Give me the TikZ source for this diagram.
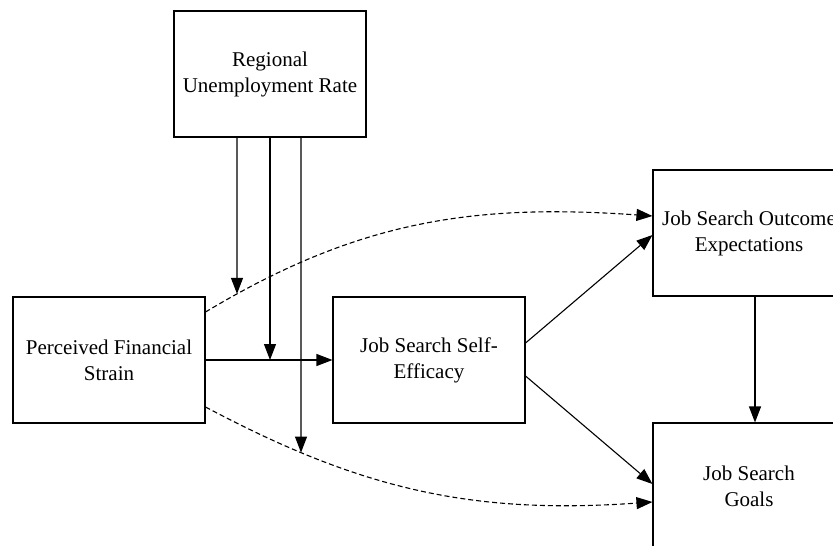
\documentclass[tikz,border=0pt]{standalone}
\usepackage{fontspec}
\setmainfont{Liberation Serif}
\usetikzlibrary{arrows.meta,intersections}

\begin{document}
\begin{tikzpicture}
            [%%%%%%%%%%%%%%%%%%%%%%%%%%%%%%%%%%%%%%%%%%%%%%%%%%%%%%%%%%
                x=1pt,y=-1pt,>={Triangle[length=16pt,width=12pt]},
                box/.style={draw,line width=1.1pt,minimum width=192pt,minimum height=126pt,
                            align=center,inner sep=2pt,font=\fontsize{21}{26}\selectfont},
                link/.style={->,line width=1.1pt},
                dep/.style={link,dash pattern=on 5pt off 3pt}
            ]%%%%%%%%%%%%%%%%%%%%%%%%%%%%%%%%%%%%%%%%%%%%%%%%%%%%%%%%%%
            \clip (0,0) rectangle (833,546);
            \node[box] (reg) at (270,74)  {Regional\\Unemployment Rate};
            \node[box] (pfs) at (109,360) {Perceived Financial\\Strain};
            \node[box] (jse) at (429,360) {Job Search Self-\\Efficacy};
            \node[box] (jso) at (749,233) {Job Search Outcome\\Expectations};
            \node[box] (jsg) at (749,486) {Job Search\\Goals};

            \draw [link] (pfs.east) to (jse.west);
            \draw [dep,name path=upper] ([yshift=48pt]pfs.east) to [out=31,in=176] ([yshift=17pt]jso.west);
            \draw [dep,name path=lower] ([yshift=-47pt]pfs.east) to [out=-28,in=184] ([yshift=-16pt]jsg.west);
            \draw [link] ([yshift=17pt]jse.east) to ([yshift=-2pt]jso.west);
            \draw [link] ([yshift=-16pt]jse.east) to ([yshift=2pt]jsg.west);
            \draw [link] ([xshift=6pt]jso.south) to ([xshift=6pt]jsg.north);

            % moderation by the regional rate
            \path [name path=v1] ([xshift=-33pt]reg.south) -- ++(0pt,-300pt);
            \path [name path=v3] ([xshift=31pt]reg.south) -- ++(0pt,-400pt);
            \path [name intersections={of=upper and v1,by=m1}];
            \path [name intersections={of=lower and v3,by=m3}];
            \coordinate (m2) at (reg.south |- pfs.east);
            \draw [link] ([xshift=-33pt]reg.south) to (m1);
            \draw [link] (reg.south) to (m2);
            \draw [link] ([xshift=31pt]reg.south) to (m3);
        \end{tikzpicture}
\end{document}
